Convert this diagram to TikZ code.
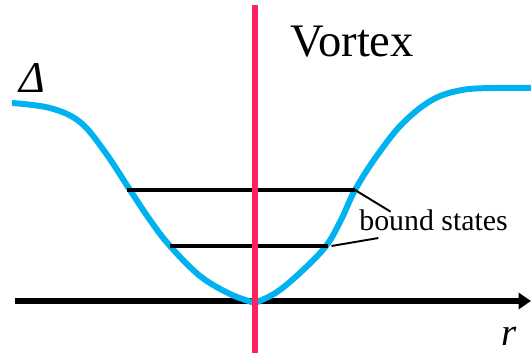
\documentclass[tikz,border=0pt]{standalone}
\usepackage{fontspec}
\setmainfont{Liberation Serif}
\newfontfamily\tms{Liberation Serif}
\usetikzlibrary{arrows.meta,positioning}
\definecolor{gapBlue}{RGB}{0,178,240}
\definecolor{coreRed}{RGB}{250,35,95}

\begin{document}
\begin{tikzpicture}[x=0.02cm, y=-0.02cm,
  gap/.style={gapBlue, line width=3.4pt},
  level/.style={black, line width=2pt},
  lead/.style={black, line width=1.1pt},
  axis/.style={black, line width=3pt, -{Triangle[length=7pt, width=9pt]}},
  lbl/.style={inner sep=0pt, font=\tms\fontsize{17}{19}\selectfont, scale=#1}
]
  \useasboundingbox (0,0) rectangle (531,358);
  \coordinate (O) at (15,301);
  \coordinate (R) at (531,301);
  \draw[axis] (O) -- (R);
  \draw[gap] plot[smooth, tension=0.6] coordinates {(12,103) (50,108) (80,122)
    (105,152) (130,190) (150,220) (170,246) (200,276) (230,294) (255,303)};
  \draw[gap] plot[smooth, tension=0.6] coordinates {(255,303) (277,292)
    (302,271) (326,246) (341,220) (355,190) (376,157) (402,124) (432,100)
    (462,90) (495,88) (531,88)};
  \coordinate (A1) at (127,190);
  \coordinate (B1) at (355,190);
  \coordinate (A2) at (170,246);
  \coordinate (B2) at (328,246);
  \draw[level] (A1) -- (B1);
  \draw[level] (A2) -- (B2);
  \draw[coreRed, line width=3.6pt] (255,5) -- (255,353);
  \node[lbl=1, anchor=base west] (bs) at (359,231) {bound states};
  \draw[lead] (B1) -- ([xshift=18pt,yshift=-1pt]bs.north west);
  \draw[lead] ([xshift=2pt]B2) -- ([xshift=11pt,yshift=-4pt]bs.base west);
  \node[lbl=1.56, anchor=base west] (vx) at (290,57) {Vortex};
  \node[lbl=1.47, anchor=base west] (D) at (19,93) {\itshape Δ};
  \node[lbl=1.3, anchor=base west] (r) at (501,345) {\itshape r};
\end{tikzpicture}
\end{document}
